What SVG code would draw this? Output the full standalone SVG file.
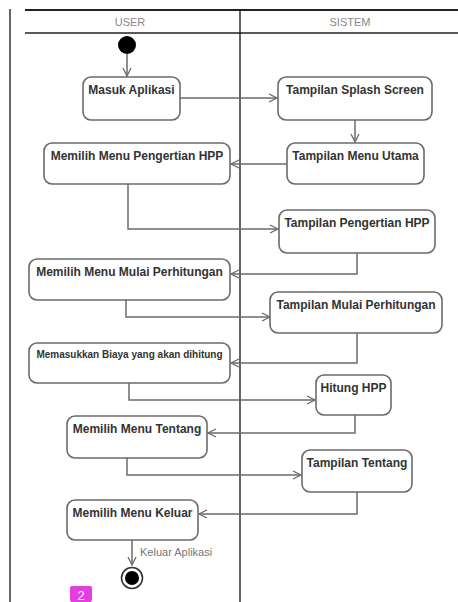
<svg xmlns="http://www.w3.org/2000/svg" width="458" height="602" viewBox="0 0 458 602">
<style>
.node rect{fill:#fff;stroke:#6b6b6b;stroke-width:1.6}
.node text{font-family:"Liberation Sans",Arial,sans-serif;font-size:12px;fill:#333;text-anchor:middle;font-weight:bold}
.lane{font-family:"Liberation Sans",Arial,sans-serif;font-size:11px;fill:#888;text-anchor:middle}
.conn path{fill:none;stroke:#6b6b6b;stroke-width:1.5;marker-end:url(#arr)}
</style>
<defs>
<marker id="arr" markerWidth="10" markerHeight="10" refX="9" refY="5" orient="auto" markerUnits="userSpaceOnUse">
<path d="M1,1 L9,5 L1,9" fill="none" stroke="#6b6b6b" stroke-width="1.3"/>
</marker>
</defs>
<rect width="458" height="602" fill="#fff"/>
<g id="frame">
<line x1="10" y1="9" x2="10" y2="602" stroke="#333" stroke-width="1.5"/>
<line x1="25" y1="10" x2="458" y2="10" stroke="#222" stroke-width="2"/>
<line x1="25" y1="33" x2="458" y2="33" stroke="#222" stroke-width="1.5"/>
<line x1="240" y1="10" x2="240" y2="602" stroke="#111" stroke-width="1.3"/>
<text class="lane" x="130" y="26">USER</text>
<text class="lane" x="350" y="26">SISTEM</text>
</g>
<g class="conn" id="connectors">
<path d="M127,54 V76"/>
<path d="M180,98 H277"/>
<path d="M355,120 V142"/>
<path d="M287,164 H231"/>
<path d="M128,184 V229 H278"/>
<path d="M357,253 V274 H231"/>
<path d="M126,300 V317 H270"/>
<path d="M357,333 V363 H231"/>
<path d="M129,383 V400 H315"/>
<path d="M355,415 V433 H208"/>
<path d="M127,458 V475 H301"/>
<path d="M357,492 V514 H199"/>
<path d="M132,540 V565"/>
<text x="140" y="556" font-family="Liberation Sans,Arial,sans-serif" font-size="11" fill="#777">Keluar Aplikasi</text>
</g>
<g id="start"><circle cx="127" cy="45" r="9" fill="#000"/></g>
<g class="node" id="masuk"><rect x="83" y="77" width="97" height="43" rx="8"/><text x="131.5" y="94">Masuk Aplikasi</text></g>
<g class="node" id="splash"><rect x="278" y="77" width="154" height="43" rx="8"/><text x="355" y="94">Tampilan Splash Screen</text></g>
<g class="node" id="pengertian"><rect x="44" y="143" width="186" height="41" rx="8"/><text x="137" y="160">Memilih Menu Pengertian HPP</text></g>
<g class="node" id="menuutama"><rect x="287" y="143" width="137" height="41" rx="8"/><text x="355.5" y="160">Tampilan Menu Utama</text></g>
<g class="node" id="tpengertian"><rect x="279" y="210" width="156" height="43" rx="8"/><text x="357" y="227">Tampilan Pengertian HPP</text></g>
<g class="node" id="mulai"><rect x="29" y="259" width="201" height="41" rx="8"/><text x="129.5" y="276">Memilih Menu Mulai Perhitungan</text></g>
<g class="node" id="tmulai"><rect x="270" y="292" width="172" height="41" rx="8"/><text x="356" y="309">Tampilan Mulai Perhitungan</text></g>
<g class="node" id="masukkan"><rect x="29" y="343" width="201" height="40" rx="8"/><text x="129.5" y="358" style="font-size:10px">Memasukkan Biaya yang akan dihitung</text></g>
<g class="node" id="hitung"><rect x="316" y="375" width="75" height="40" rx="8"/><text x="353.5" y="392">Hitung HPP</text></g>
<g class="node" id="tentang"><rect x="67" y="416" width="140" height="42" rx="8"/><text x="137" y="433">Memilih Menu Tentang</text></g>
<g class="node" id="ttentang"><rect x="302" y="450" width="110" height="42" rx="8"/><text x="357" y="467">Tampilan Tentang</text></g>
<g class="node" id="keluar"><rect x="67" y="500" width="131" height="40" rx="8"/><text x="132.5" y="517">Memilih Menu Keluar</text></g>
<g id="end"><circle cx="132" cy="578" r="10.5" fill="#fff" stroke="#333" stroke-width="1.6"/><circle cx="132" cy="578" r="7" fill="#000"/></g>
<g id="badge"><rect x="70" y="586" width="22" height="16" rx="2" fill="#e23ee0"/><text x="81" y="600" font-family="Liberation Sans,Arial,sans-serif" font-size="13" fill="#fff" text-anchor="middle">2</text></g>
</svg>
